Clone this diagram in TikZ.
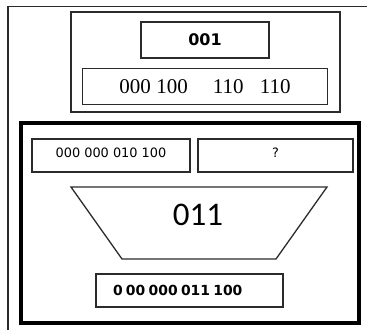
\documentclass[tikz,border=0pt]{standalone}
\usepackage{fontspec}
\setmainfont{DejaVu Sans}
\newfontfamily\serifdigits{Liberation Serif}
\newfontfamily\bigdigits{Carlito}
\usetikzlibrary{positioning}
\definecolor{boxink}{HTML}{2B2B2B}
\tikzset{
  frame/.style={draw=boxink, line width=1.4pt},
  cell/.style={draw=boxink, line width=1.3pt, inner sep=0pt, align=center},
  thickframe/.style={draw=black, line width=3.4pt, inner sep=0pt},
  funnel/.style={draw=boxink, line width=1.3pt, line join=miter},
}

\begin{document}
\begin{tikzpicture}[x=1pt, y=-1pt]
\useasboundingbox (0,0) rectangle (367,330);

% ---- page frame (only top and left edge in view) ---------------------
\draw[frame] (8,330) -- (8,6.5) -- (367,6.5);

% ---- upper block -----------------------------------------------------
\node[cell, minimum width=269pt, minimum height=100pt] (upper) at (205.5,62) {};
\node[cell, minimum width=128pt, minimum height=36pt] (opcode) at (205,40)
  {\fontsize{16}{18}\selectfont\bfseries 001};
\node[cell, minimum width=245pt, minimum height=36pt, below=9pt of opcode] (word)
  {\serifdigits\fontsize{21}{24}\selectfont
   000\hspace{5.5pt}100\hspace{25pt}110\hspace{16.5pt}110};

% ---- lower block -----------------------------------------------------
\node[thickframe, minimum width=338pt, minimum height=200pt] (lower) at (190,223) {};
\node[cell, minimum width=158pt, minimum height=33pt, text depth=5pt] (operand) at (111,155.5)
  {\fontsize{12.9}{14}\selectfont 000 000 010 100};
\node[cell, minimum width=155pt, minimum height=33pt, text depth=5pt] (unknown) at (275.5,155.5)
  {\fontsize{12.9}{14}\selectfont ?};

% funnel drawn from its four corners
\coordinate (mux nw) at (71,187);
\coordinate (mux ne) at (327,187);
\coordinate (mux se) at (276,259);
\coordinate (mux sw) at (122,259);
\draw[funnel] (mux nw) -- (mux ne) -- (mux se) -- (mux sw) -- cycle;
\node[inner sep=0pt] (muxcode) at (198,215) {\bigdigits\fontsize{33}{36}\selectfont 011};

\node[cell, minimum width=187pt, minimum height=33pt, text width=153pt, align=left] (result)
  at (189.5,290.5) {\fontsize{13.9}{16}\selectfont\bfseries 0 00 000 011 100};

\end{tikzpicture}
\end{document}
